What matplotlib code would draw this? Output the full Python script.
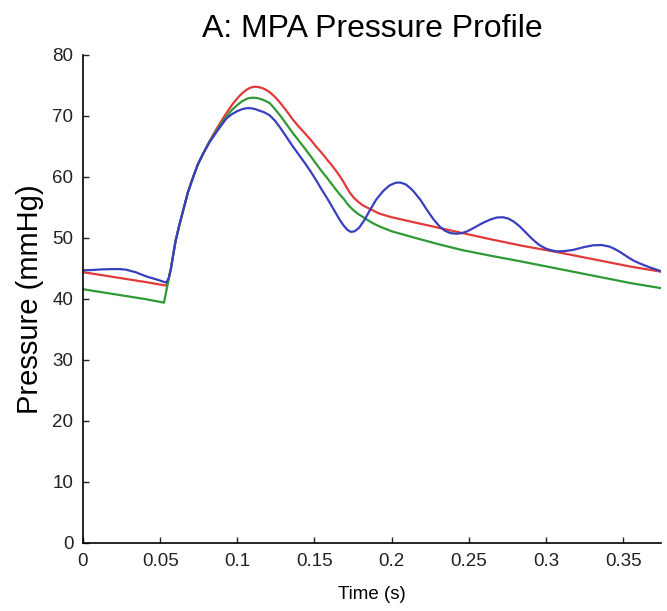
import matplotlib
matplotlib.use("Agg")
import matplotlib.pyplot as plt

# time points (s) and pressures (mmHg)
t_red = [0.0, 0.020, 0.040, 0.0540, 0.0555, 0.0570, 0.0585, 0.0600, 0.0625,
         0.0650, 0.0680, 0.0714, 0.0745, 0.0780, 0.0820, 0.0866, 0.0900,
         0.0930, 0.0965, 0.1000, 0.1030, 0.1060, 0.1085, 0.1110, 0.1135,
         0.1160, 0.1185, 0.1210, 0.1245, 0.1280, 0.1320, 0.1360, 0.1400,
         0.1440, 0.1475, 0.1510, 0.1545, 0.1580, 0.1610, 0.1640, 0.1665,
         0.1690, 0.1710, 0.1730, 0.1755, 0.1780, 0.1810, 0.1840, 0.1880,
         0.1920, 0.1960, 0.2000, 0.2140, 0.2300, 0.2460, 0.2640, 0.2850,
         0.3070, 0.3250, 0.3390, 0.3550, 0.3740]
p_red = [44.4, 43.6, 42.8, 42.2, 43.3, 45.0, 47.3, 49.5, 52.2,
         54.6, 57.5, 60.0, 62.1, 63.9, 65.9, 67.9, 69.3,
         70.5, 71.8, 72.9, 73.7, 74.3, 74.65, 74.8, 74.75,
         74.6, 74.3, 73.9, 73.1, 72.1, 70.8, 69.4, 68.2,
         67.1, 66.1, 65.0, 64.0, 62.9, 62.0, 61.0, 60.1,
         59.1, 58.2, 57.4, 56.6, 56.0, 55.4, 55.0, 54.5,
         54.0, 53.7, 53.4, 52.6, 51.7, 50.8, 49.8, 48.7,
         47.7, 46.8, 46.1, 45.3, 44.5]

t_green = [0.0, 0.020, 0.040, 0.0525, 0.0550, 0.0570, 0.0585, 0.0600, 0.0625,
           0.0650, 0.0680, 0.0714, 0.0745, 0.0780, 0.0820, 0.0866, 0.0900,
           0.0930, 0.0965, 0.1000, 0.1030, 0.1060, 0.1080, 0.1100, 0.1125,
           0.1150, 0.1180, 0.1210, 0.1245, 0.1280, 0.1320, 0.1360, 0.1400,
           0.1440, 0.1475, 0.1510, 0.1545, 0.1580, 0.1610, 0.1640, 0.1665,
           0.1690, 0.1710, 0.1730, 0.1755, 0.1780, 0.1810, 0.1840, 0.1880,
           0.1920, 0.1960, 0.2000, 0.2140, 0.2300, 0.2460, 0.2640, 0.2850,
           0.3070, 0.3250, 0.3390, 0.3550, 0.3740]
p_green = [41.6, 40.8, 40.0, 39.4, 42.6, 45.0, 47.3, 49.5, 52.2,
           54.6, 57.5, 60.0, 62.1, 63.9, 65.8, 67.6, 68.9,
           69.9, 71.0, 71.8, 72.4, 72.8, 72.95, 73.0, 72.95,
           72.8, 72.5, 72.1, 71.1, 70.0, 68.6, 67.2, 65.9,
           64.6, 63.4, 62.2, 61.0, 59.9, 58.9, 57.9, 57.1,
           56.4, 55.7, 55.1, 54.5, 54.0, 53.5, 53.0, 52.4,
           51.9, 51.5, 51.1, 50.1, 49.0, 48.0, 47.1, 46.1,
           45.0, 44.1, 43.4, 42.6, 41.8]

t_blue = [0.0, 0.006, 0.012, 0.018, 0.024, 0.028, 0.031, 0.034, 0.037,
          0.041, 0.045, 0.049, 0.0525, 0.0540, 0.0555, 0.0570, 0.0585,
          0.0600, 0.0625, 0.0650, 0.0680, 0.0714, 0.0745, 0.0780, 0.0820,
          0.0866, 0.0900, 0.0930, 0.0965, 0.1000, 0.1035, 0.1065, 0.1095,
          0.1120, 0.1140, 0.1175, 0.1210, 0.1245, 0.1280, 0.1320, 0.1360,
          0.1400, 0.1440, 0.1475, 0.1510, 0.1545, 0.1580, 0.1610, 0.1640,
          0.1665, 0.1690, 0.1715, 0.1736, 0.1760, 0.1790, 0.1825, 0.1860,
          0.1900, 0.1945, 0.1985, 0.2025, 0.2055, 0.2090, 0.2115, 0.2140,
          0.2185, 0.2226, 0.2270, 0.2310, 0.2345, 0.2380, 0.2420, 0.2455,
          0.2490, 0.2528, 0.2585, 0.2636, 0.2680, 0.2720, 0.2755, 0.2790,
          0.2830, 0.2865, 0.2900, 0.2930, 0.2960, 0.2995, 0.3030, 0.3070,
          0.3120, 0.3176, 0.3245, 0.3305, 0.3360, 0.3410, 0.3445, 0.3480,
          0.3510, 0.3540, 0.3575, 0.3610, 0.3640, 0.3670, 0.3705, 0.3740]
p_blue = [44.7, 44.75, 44.85, 44.9, 44.9, 44.8, 44.6, 44.4, 44.1,
          43.7, 43.4, 43.1, 42.8, 42.7, 43.4, 45.0, 47.3,
          49.5, 52.2, 54.6, 57.5, 60.0, 62.1, 63.9, 65.7,
          67.4, 68.6, 69.6, 70.3, 70.8, 71.15, 71.3, 71.25,
          71.1, 70.9, 70.6, 70.1, 69.2, 68.0, 66.5, 65.0,
          63.6, 62.2, 60.9, 59.5, 58.0, 56.6, 55.3, 54.0,
          52.9, 52.0, 51.3, 51.0, 51.1, 51.7, 53.0, 54.6,
          56.3, 57.7, 58.6, 59.05, 59.1, 58.8, 58.3, 57.7,
          56.3, 54.7, 53.1, 51.9, 51.2, 50.8, 50.7, 50.8,
          51.1, 51.6, 52.4, 53.0, 53.35, 53.4, 53.2, 52.7,
          51.9, 51.0, 50.1, 49.4, 48.8, 48.3, 48.0, 47.8,
          47.85, 48.05, 48.5, 48.8, 48.85, 48.6, 48.2, 47.7,
          47.2, 46.7, 46.2, 45.8, 45.5, 45.2, 44.9, 44.6]

x_ticks = [0, 0.05, 0.1, 0.15, 0.2, 0.25, 0.3, 0.35]
x_tick_labels = ['0', '0.05', '0.1', '0.15', '0.2', '0.25', '0.3', '0.35']
y_ticks = [0, 10, 20, 30, 40, 50, 60, 70, 80]

plt.rcParams['font.family'] = ['Liberation Sans', 'DejaVu Sans']

fig = plt.figure(figsize=(6.67, 6.11), dpi=100)
ax = fig.add_axes([0.1244, 0.1113, 0.8666, 0.7987])

ax.plot(t_red, p_red, color='#e23a3a', lw=1.6, solid_joinstyle='round')
ax.plot(t_green, p_green, color='#2f9a35', lw=1.6, solid_joinstyle='round')
ax.plot(t_blue, p_blue, color='#3a3fc0', lw=1.6, solid_joinstyle='round')

ax.set_xlim(0, 0.3745)
ax.set_ylim(0, 80)
ax.set_xticks(x_ticks)
ax.set_xticklabels(x_tick_labels)
ax.set_yticks(y_ticks)

# matlab-ish look: box off, ticks inward
ax.spines['top'].set_visible(False)
ax.spines['right'].set_visible(False)
ax.spines['left'].set_linewidth(1.2)
ax.spines['bottom'].set_linewidth(1.2)
ax.tick_params(direction='in', length=4, width=1, labelsize=13.5, pad=7,
               colors='#222222')

ax.set_title('A: MPA Pressure Profile', fontsize=23, pad=13)
ax.set_ylabel('Pressure (mmHg)', fontsize=21, labelpad=6)
ax.set_xlabel('Time (s)', fontsize=13.5, labelpad=12)

fig.savefig('out.png', dpi=100)
